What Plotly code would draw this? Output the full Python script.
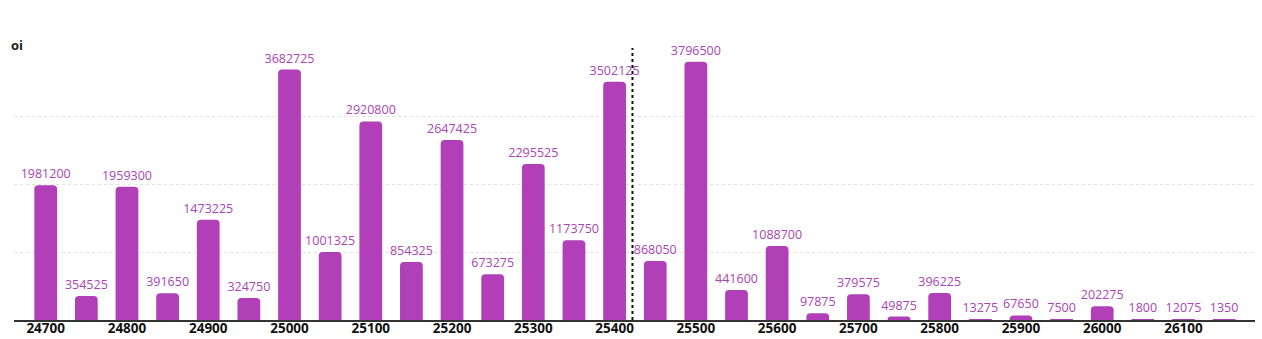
import plotly.graph_objects as go

# Strike prices and open interest
strikes = [24700, 24750, 24800, 24850, 24900, 24950, 25000, 25050, 25100, 25150,
           25200, 25250, 25300, 25350, 25400, 25450, 25500, 25550, 25600, 25650,
           25700, 25750, 25800, 25850, 25900, 25950, 26000, 26050, 26100, 26150]
oi = [1981200, 354525, 1959300, 391650, 1473225, 324750, 3682725, 1001325, 2920800, 854325,
      2647425, 673275, 2295525, 1173750, 3502125, 868050, 3796500, 441600, 1088700, 97875,
      379575, 49875, 396225, 13275, 67650, 7500, 202275, 1800, 12075, 1350]
tick_vals = [24700, 24800, 24900, 25000, 25100, 25200, 25300, 25400, 25500,
             25600, 25700, 25800, 25900, 26000, 26100]
spot = 25422

bar_color = "#b03fb8"
label_color = "#a845b3"

fig = go.Figure()
fig.add_trace(go.Bar(
    x=strikes, y=oi, width=28,
    marker=dict(color=bar_color, line=dict(width=0)),
    text=[str(v) for v in oi], textposition="outside", cliponaxis=False,
    constraintext="none",
    textfont=dict(family="Open Sans", size=12.5, color=label_color),
    hoverinfo="x+y",
))

fig.add_shape(type="line", xref="x", yref="paper", x0=spot, x1=spot, y0=0, y1=1,
              line=dict(color="#111111", width=2, dash="dot"))

fig.add_annotation(text="<b>oi</b>", xref="paper", yref="paper", x=-0.004, y=1.01,
                   xanchor="left", yanchor="middle", showarrow=False,
                   font=dict(family="Open Sans", size=13, color="#1a1a1a"))

fig.update_layout(
    width=1262, height=339,
    margin=dict(l=14, r=7, t=48, b=19),
    paper_bgcolor="white", plot_bgcolor="white",
    barcornerradius=4,
    showlegend=False,
    xaxis=dict(range=[24661, 26188], tickvals=tick_vals,
               ticktext=[str(t) for t in tick_vals], automargin=False,
               tickfont=dict(family="Open Sans", size=13.5, color="#111111", weight="bold"),
               ticklabelstandoff=-5,
               showgrid=False, showline=True, linecolor="#333333", linewidth=2,
               ticks="", ticklen=0, zeroline=False),
    yaxis=dict(range=[0, 4000000], tickvals=[1000000, 2000000, 3000000],
               showticklabels=False, showgrid=True, gridcolor="#e2e2e2",
               griddash="dot", gridwidth=1, zeroline=False, showline=False,
               automargin=False),
)

fig.write_html("out.html")
